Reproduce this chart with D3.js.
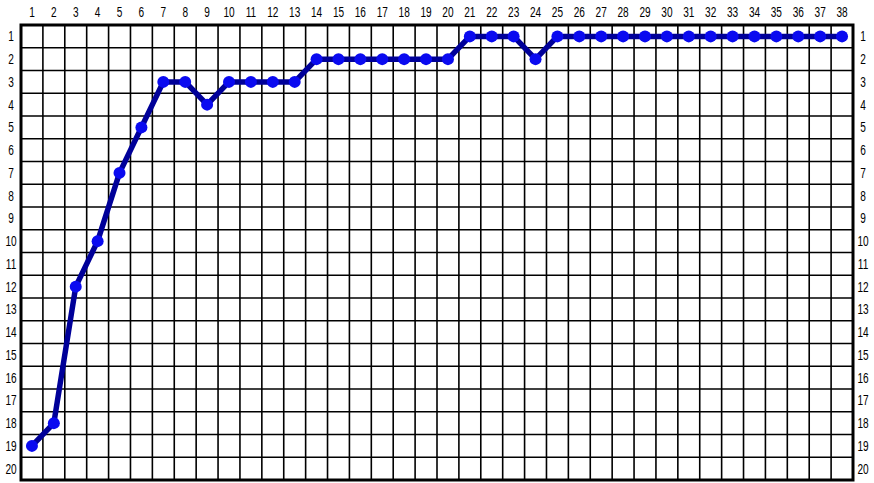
<!DOCTYPE html>
<html><head><meta charset="utf-8">
<script src="https://cdn.jsdelivr.net/npm/d3@7"></script>
<style>body{margin:0;background:#fff}svg{display:block}text{font-family:"Liberation Sans",Arial,sans-serif;font-size:14px;fill:#000}</style>
</head><body><svg id="c" width="874" height="483"></svg>
<script>
const matchdays = d3.range(1, 39);
const positions = d3.range(1, 21);
const rank = [19,18,12,10,7,5,3,3,4,3,3,3,3,2,2,2,2,2,2,2,1,1,1,2,1,1,1,1,1,1,1,1,1,1,1,1,1,1];

const svg = d3.select("#c");
const L = 21, R = 853, T = 25, B = 480;
const x = d3.scaleBand().domain(matchdays).range([L, R]);
const y = d3.scaleBand().domain(positions).range([T, B]);

const g = svg.append("g");
g.selectAll("line.v").data(matchdays.slice(1)).join("line")
  .attr("x1", d => x(d)).attr("x2", d => x(d)).attr("y1", T).attr("y2", B)
  .attr("stroke", "#000").attr("stroke-width", 1.6);
g.selectAll("line.h").data(positions.slice(1)).join("line")
  .attr("y1", d => y(d)).attr("y2", d => y(d)).attr("x1", L).attr("x2", R)
  .attr("stroke", "#000").attr("stroke-width", 1.6);
g.append("rect").attr("x", L).attr("y", T).attr("width", R - L).attr("height", B - T)
  .attr("fill", "none").attr("stroke", "#000").attr("stroke-width", 3);

function lab(cls, data, fx, fy) {
  svg.selectAll("text." + cls).data(data).join("text").attr("class", cls)
    .attr("text-anchor", "middle")
    .attr("transform", d => `translate(${fx(d)},${fy(d)}) scale(0.72,1.05)`)
    .text(d => d);
}
lab("xl", matchdays, d => x(d) + x.bandwidth() / 2, () => 17);
lab("yl", positions, () => 11, d => y(d) + y.bandwidth() / 2 + 5);
lab("yr", positions, () => 863, d => y(d) + y.bandwidth() / 2 + 5);

const px = (d, i) => x(matchdays[i]) + x.bandwidth() / 2;
const py = d => y(d) + y.bandwidth() / 2;
svg.append("path").datum(rank)
  .attr("d", d3.line().x(px).y(py))
  .attr("fill", "none").attr("stroke", "#000099").attr("stroke-width", 5.5).attr("stroke-linejoin", "round");
svg.selectAll("circle").data(rank).join("circle")
  .attr("cx", px).attr("cy", py).attr("r", 6).attr("fill", "#0a0af0");
</script></body></html>
